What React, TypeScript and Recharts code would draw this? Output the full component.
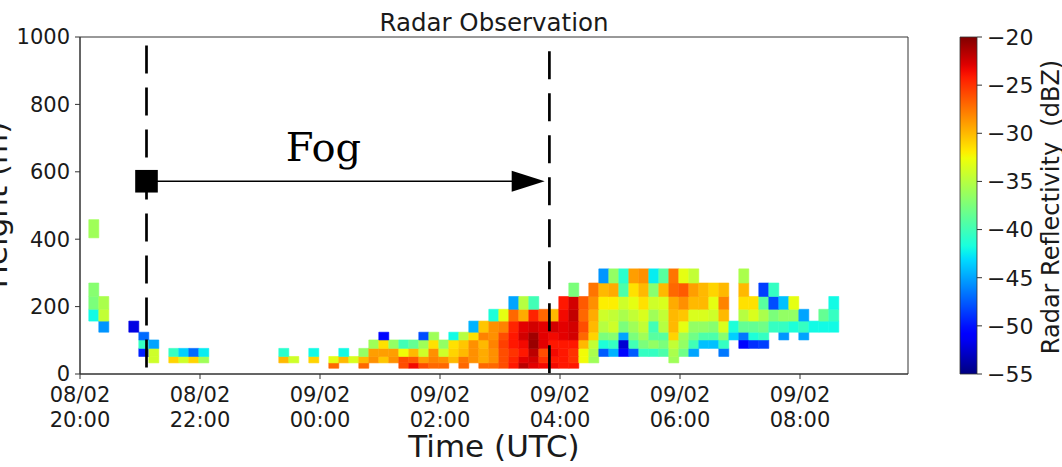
import React from "react";
import {
  ComposedChart,
  XAxis,
  YAxis,
  ReferenceArea,
  ReferenceLine,
  ReferenceDot,
} from "recharts";

const _ = null;
const gap = (n: number) => Array(n).fill(null);

// time axis in minutes after 08/02 20:00 UTC
const timeTicks = [0, 120, 240, 360, 480, 600, 720];
const tickDates = ["08/02", "08/02", "09/02", "09/02", "09/02", "09/02", "09/02"];
const tickTimes = ["20:00", "22:00", "00:00", "02:00", "04:00", "06:00", "08:00"];
const heightTicks = [0, 200, 400, 600, 800, 1000];
const dbzTicks = [-55, -50, -45, -40, -35, -30, -25, -20];

// one profile every 10 min, first one starting 8.8 min after 20:00
const firstScanMin = 8.8;
const scanStepMin = 10;

// range gate edges (m)
const gateEdges = [17, 33, 52, 76, 101, 124, 157, 192, 230, 270, 312, 355, 404, 458];

// reflectivity (dBZ) per gate, indexed by profile
const gate0 = [...gap(24), -27, _, _, -27, _, _, _, -26, -23.5, -26, -27, -27, _, -27, _, -27, -27, -26, -24, -21.8, -23, -23.5, -23.5, -24, -24];
const gate1 = [...gap(6), -34, _, -31, -34, -31, -36, ...gap(7), -30, -34, _, -31, _, -33, -30, -33.5, -30, -28.5, -30.5, -28.5, -26, -26.5, -29, -28, -28.5, -30, -27.5, -28.5, -29.5, -28.5, -26, -24.5, -23, -22.5, -25, -24, -24, -25, -32.5, -36, ...gap(7), -36];
const gate2 = [...gap(5), -49.5, -34, _, -40.5, -43.5, -47, -42.5, ...gap(7), -41, _, _, -42, _, _, -42, _, -36.5, -29, -29, -29, -32.5, -30, -34, -28.5, -34, -31, -30, -28.5, -29.5, -28.5, -26, -25, -24, -21.8, -26, -23.5, -24, -25, -32.5, -35.5, -47.5, -44.5, -50.5, -47.5, -40.5, -40.5, -39.5, -35.5, -38, -45, _, _, -46.5];
const gate3 = [...gap(5), -40.5, -45, ...gap(21), -36, -31.5, -36.5, -40, -38.5, -36, -31.5, -36.5, -31.5, -30.5, -28.5, -30, -28, -25.5, -24, -23.5, -20.8, -23, -24, -24, -24, -30, -34.5, -41.5, -40.5, -52.5, -40, -37.5, -36.5, -37.5, -34.5, -36.5, -40, -44, -44, -40.5, _, -50.5, -49, -48.5];
const gate4 = [...gap(5), -47, ...gap(23), -50.5, ...gap(3), -48, -36, _, -42, -35, -31.5, -28, -28.5, -26, -24, -22.5, -21, -23, -23.5, -23, -22.5, -27, -31, -37.5, -37, -45, -37.5, -36, -39, -39, -31, -36, -38, -39.5, -39.5, -37, -43.5, -46.5, -41.5, -40.5, _, -45.5, _, -45];
const gate5 = [_, -45.5, _, _, -52, ...gap(33), -44.5, -30.5, -28.5, -28, -24.5, -23, -22.5, -23, -22.5, -23, -22.5, -26, -30, -35, -34, -37.5, -36, -34.5, -40, -35, -30, -33, -36.5, -36.5, -37, -33.5, -41.5, -38.5, -38.5, -38, -40.5, -40.5, -41.5, -40.5, -42, -42, -42];
const gate6 = [-42, -34.5, ...gap(38), -41.5, -33, -27, -29.5, -24.5, -27, -30, -23.5, -22, -27, -29.5, -34, -34.5, -35.5, -34.5, -33.5, -36, -34.5, -30, -30.5, -33.5, -33.5, -34, -30, _, -35, -33.5, -35.5, -37.5, -36.5, -36.5, -45, _, -38.5, -40.5];
const gate7 = [-37.5, -35.5, ...gap(40), -45, -35, -40, _, _, -24, -22.5, -26.5, -28.5, -32, -32, -34, -33, -31.5, -34, -33.5, -29.5, -28.5, -30, -30, -33, -28, _, -31.5, -31.5, -39, -48, -44, -33, _, _, _, -42];
const gate8 = [-37, ...gap(47), -37.5, _, -27.5, -30, -29.5, -39.5, -31.5, -30, -37, -30, -27, -26.5, -29, -30, -31, -30, _, -30, _, -48.5, -40.5];
const gate9 = [...gap(51), -45.5, -36.5, -41, -29, -28.5, -42.5, -39, -27.5, -33, -34.5, _, _, _, _, -35.5];
const gate10: (number | null)[] = [];
const gate11: (number | null)[] = [];
const gate12 = [-36];

const gates = [gate0, gate1, gate2, gate3, gate4, gate5, gate6, gate7, gate8, gate9, gate10, gate11, gate12];

// fog period annotation
const fogStartMin = 66.5;
const fogEndMin = 469.4;
const arrowTipMin = 464.7;
const arrowHeight = 572;

const DBZ_MIN = -55;
const DBZ_MAX = -20;
const SANS = "'DejaVu Sans', sans-serif";
const TEXT = "#1a1a1a";

// matplotlib "jet" segment data
const jetR: number[][] = [[0, 0], [0.35, 0], [0.66, 1], [0.89, 1], [1, 0.5]];
const jetG: number[][] = [[0, 0], [0.125, 0], [0.375, 1], [0.64, 1], [0.91, 0], [1, 0]];
const jetB: number[][] = [[0, 0.5], [0.11, 1], [0.34, 1], [0.65, 0], [1, 0]];

const seg = (pts: number[][], t: number) => {
  for (let i = 1; i < pts.length; i++) {
    if (t <= pts[i][0]) {
      const [x0, y0] = pts[i - 1];
      const [x1, y1] = pts[i];
      return y0 + ((t - x0) / (x1 - x0)) * (y1 - y0);
    }
  }
  return pts[pts.length - 1][1];
};

const jet = (t: number) => {
  const c = Math.max(0, Math.min(1, t));
  const ch = (pts: number[][]) => Math.round(seg(pts, c) * 255);
  return `rgb(${ch(jetR)},${ch(jetG)},${ch(jetB)})`;
};

const dbzColor = (v: number) => jet((v - DBZ_MIN) / (DBZ_MAX - DBZ_MIN));

type Cell = { x1: number; x2: number; y1: number; y2: number; dbz: number };

const cells: Cell[] = [];
gates.forEach((row, g) => {
  row.forEach((v, k) => {
    if (v == null) return;
    const t0 = firstScanMin + k * scanStepMin;
    cells.push({ x1: t0, x2: t0 + scanStepMin, y1: gateEdges[g], y2: gateEdges[g + 1], dbz: v });
  });
});

const TimeTick = (props: any) => {
  const { x, y, payload } = props;
  const i = timeTicks.indexOf(payload.value);
  return (
    <text x={x} y={y} textAnchor="middle" fontSize={21} fontFamily={SANS} fill={TEXT}>
      <tspan x={x} dy={20.5}>{tickDates[i]}</tspan>
      <tspan x={x} dy={25}>{tickTimes[i]}</tspan>
    </text>
  );
};

const minus = (v: number) => (v < 0 ? `\u2212${Math.abs(v)}` : `${v}`);

const gradientStops = Array.from({ length: 51 }, (_v, i) => i / 50);

export default function App() {
  return (
    <div style={{ position: "relative", width: 1062, height: 467, background: "#fff" }}>
      <style>{"body{margin:0}"}</style>
      <div style={{ position: "absolute", left: 0, top: 0 }}>
        <ComposedChart width={940} height={467} margin={{ top: 37, right: 32, bottom: 0, left: 0 }}>
          <XAxis
            type="number"
            dataKey="x"
            domain={[0, 828]}
            ticks={timeTicks}
            interval={0}
            allowDataOverflow
            height={93}
            tickSize={5}
            tickMargin={2}
            stroke="#333"
            tick={(p: any) => <TimeTick {...p} />}
          />
          <YAxis
            type="number"
            dataKey="y"
            domain={[0, 1000]}
            ticks={heightTicks}
            interval={0}
            allowDataOverflow
            width={80}
            tickSize={5}
            tickMargin={5}
            stroke="#333"
            tick={{ fontSize: 21, fontFamily: SANS, fill: TEXT }}
          />
          {cells.map((c, i) => (
            <ReferenceArea
              key={i}
              x1={c.x1}
              x2={c.x2}
              y1={c.y1}
              y2={c.y2}
              fill={dbzColor(c.dbz)}
              fillOpacity={1}
              stroke={dbzColor(c.dbz)}
              strokeWidth={0.6}
              ifOverflow="visible"
            />
          ))}
          <ReferenceArea x1={0} x2={828} y1={0} y2={1000} fill="none" fillOpacity={0} stroke="#333" strokeWidth={1} />
          <ReferenceLine
            segment={[{ x: fogStartMin, y: 975 }, { x: fogStartMin, y: 5 }]}
            stroke="#000"
            strokeWidth={2.7}
            strokeDasharray="28 14"
            ifOverflow="visible"
          />
          <ReferenceLine
            segment={[{ x: fogEndMin, y: 958 }, { x: fogEndMin, y: -12 }]}
            stroke="#000"
            strokeWidth={2.7}
            strokeDasharray="28 14"
            ifOverflow="visible"
          />
          <ReferenceLine
            segment={[{ x: fogStartMin, y: arrowHeight }, { x: arrowTipMin - 20, y: arrowHeight }]}
            stroke="#000"
            strokeWidth={1.5}
          />
          <ReferenceDot
            x={fogStartMin}
            y={arrowHeight}
            ifOverflow="visible"
            shape={(p: any) => <rect x={p.cx - 11.3} y={p.cy - 11.3} width={22.6} height={22.6} fill="#000" />}
          />
          <ReferenceDot
            x={arrowTipMin}
            y={arrowHeight}
            ifOverflow="visible"
            shape={(p: any) => (
              <polygon
                points={`${p.cx},${p.cy} ${p.cx - 33},${p.cy - 10.5} ${p.cx - 33},${p.cy + 10.5}`}
                fill="#000"
              />
            )}
          />
          <ReferenceDot
            x={243.5}
            y={631}
            ifOverflow="visible"
            shape={(p: any) => (
              <text x={p.cx} y={p.cy} textAnchor="middle" fontSize={40} fontFamily="'DejaVu Serif', serif" fill="#000">
                Fog
              </text>
            )}
          />
          <text x={494} y={31} textAnchor="middle" fontSize={24.5} fontFamily={SANS} fill={TEXT}>
            Radar Observation
          </text>
          <text x={494} y={457} textAnchor="middle" fontSize={31} fontFamily={SANS} fill={TEXT}>
            Time (UTC)
          </text>
          <text
            transform="translate(7,205) rotate(-90)"
            textAnchor="middle"
            fontSize={31}
            fontFamily={SANS}
            fill={TEXT}
          >
            Height (m)
          </text>
        </ComposedChart>
      </div>
      <div style={{ position: "absolute", left: 900, top: 0 }}>
        <ComposedChart width={162} height={467} margin={{ top: 37, right: 0, bottom: 93, left: 60 }}>
          <defs>
            <linearGradient id="jetBar" x1="0" y1="1" x2="0" y2="0">
              {gradientStops.map((t) => (
                <stop key={t} offset={`${t * 100}%`} stopColor={jet(t)} />
              ))}
            </linearGradient>
          </defs>
          <XAxis type="number" dataKey="x" domain={[0, 1]} allowDataOverflow hide />
          <YAxis
            type="number"
            dataKey="y"
            orientation="right"
            domain={[DBZ_MIN, DBZ_MAX]}
            ticks={dbzTicks}
            interval={0}
            allowDataOverflow
            width={85}
            tickSize={5}
            tickMargin={5}
            axisLine={false}
            stroke="#333"
            tickFormatter={minus}
            tick={{ fontSize: 22, fontFamily: SANS, fill: TEXT }}
          />
          <ReferenceArea
            x1={0}
            x2={1}
            y1={DBZ_MIN}
            y2={DBZ_MAX}
            fill="url(#jetBar)"
            fillOpacity={1}
            stroke="#333"
            strokeWidth={0.8}
            ifOverflow="visible"
          />
          <text
            transform="translate(159,207) rotate(-90)"
            textAnchor="middle"
            fontSize={24}
            fontFamily={SANS}
            fill={TEXT}
            style={{ whiteSpace: "pre" }}
          >
            {"Radar Reflectivity  (dBZ)"}
          </text>
        </ComposedChart>
      </div>
    </div>
  );
}
